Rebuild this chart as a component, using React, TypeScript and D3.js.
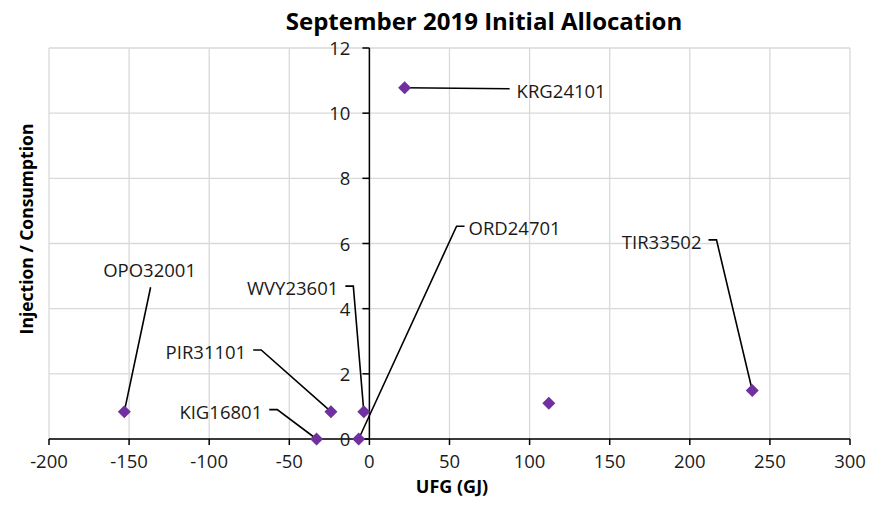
import React from "react";
import * as d3 from "d3";

const names = ["OPO32001", "PIR31101", "WVY23601", "KIG16801", "ORD24701", "KRG24101", "TIR33502", ""];
const ufg = [-153, -24, -3.5, -33, -6.7, 22, 239, 112];
const injection = [0.84, 0.84, 0.84, 0, 0, 10.78, 1.49, 1.1];
// label anchor positions in data units
const labelX = [-137.2, -76.9, -19.4, -66.9, 61.9, 91.9, 207.3, 0];
const labelY = [5.18, 2.67, 4.63, 0.84, 6.47, 10.69, 6.05, 0];
const labelSide = ["middle", "end", "end", "end", "start", "start", "end", "none"];

const xTicks = [-200, -150, -100, -50, 0, 50, 100, 150, 200, 250, 300];
const yTicks = [0, 2, 4, 6, 8, 10, 12];

const title = "September 2019 Initial Allocation";
const xTitle = "UFG (GJ)";
const yTitle = "Injection / Consumption";

const W = 872;
const H = 510;

export default function App() {
  const x = d3.scaleLinear().domain([-200, 300]).range([49, 850]);
  const y = d3.scaleLinear().domain([0, 12]).range([439, 48]);
  const font = "'Open Sans', sans-serif";
  const purple = "#7030A0";
  const grid = "#d9d9d9";

  const diamond = (cx: number, cy: number, r: number) =>
    `M${cx},${cy - r}L${cx + r},${cy}L${cx},${cy + r}L${cx - r},${cy}Z`;

  return (
    <svg
      width={W}
      height={H}
      style={{ position: "absolute", left: 0, top: 0, background: "#fff" }}
    >
      <rect x={0} y={0} width={W} height={H} fill="#fff" />
      {/* gridlines */}
      {xTicks.map((t) => (
        <line key={"gx" + t} x1={x(t)} x2={x(t)} y1={y(12)} y2={y(0)} stroke={grid} strokeWidth={1.3} />
      ))}
      {yTicks.map((t) => (
        <line key={"gy" + t} x1={x(-200)} x2={x(300)} y1={y(t)} y2={y(t)} stroke={grid} strokeWidth={1.3} />
      ))}
      {/* axes */}
      <line x1={x(-200)} x2={x(300)} y1={y(0)} y2={y(0)} stroke="#000" strokeWidth={1.5} />
      <line x1={x(0)} x2={x(0)} y1={y(12)} y2={y(0)} stroke="#000" strokeWidth={1.5} />
      {xTicks.map((t) => (
        <g key={"xt" + t}>
          <line x1={x(t)} x2={x(t)} y1={y(0)} y2={y(0) + 6} stroke="#000" strokeWidth={1.5} />
          <text x={x(t)} y={y(0) + 29} textAnchor="middle" fontFamily={font} fontSize={18.5} fill="#1a1a1a">
            {t}
          </text>
        </g>
      ))}
      {yTicks.map((t) => (
        <g key={"yt" + t}>
          <line x1={x(0) - 7} x2={x(0)} y1={y(t)} y2={y(t)} stroke="#000" strokeWidth={1.5} />
          <text x={x(0) - 19} y={y(t) + 7} textAnchor="end" fontFamily={font} fontSize={18.5} fill="#1a1a1a">
            {t}
          </text>
        </g>
      ))}
      {/* leader lines */}
      {names.map((n, i) => {
        const side = labelSide[i];
        if (side === "none") return null;
        const px = x(ufg[i]);
        const py = y(injection[i]);
        const lx = x(labelX[i]);
        const ly = y(labelY[i]);
        let pts: [number, number][] = [];
        if (side === "middle") {
          pts = [[px, py], [lx + 1, ly + 17]];
        } else if (side === "end") {
          pts = [[px, py], [lx + 15, ly - 2], [lx + 7, ly - 2]];
        } else {
          if (Math.abs(ly - py) < 10) pts = [[px, py], [lx - 7, ly - 2]];
          else pts = [[px, py], [lx - 12, ly - 2], [lx - 4, ly - 2]];
        }
        return (
          <path key={"ll" + i} d={d3.line()(pts) || ""} fill="none" stroke="#000" strokeWidth={1.6} />
        );
      })}
      {/* markers */}
      {names.map((n, i) => (
        <path key={"m" + i} d={diamond(x(ufg[i]), y(injection[i]), 6.5)} fill={purple} />
      ))}
      {/* labels */}
      {names.map((n, i) => {
        const side = labelSide[i];
        if (side === "none") return null;
        return (
          <text
            key={"lb" + i}
            x={x(labelX[i])}
            y={y(labelY[i]) + 7}
            textAnchor={side}
            fontFamily={font}
            fontSize={18.5}
            fill="#1a1a1a"
          >
            {n}
          </text>
        );
      })}
      {/* titles */}
      <text x={484} y={30} textAnchor="middle" fontFamily={font} fontSize={24} fontWeight="bold" fill="#000">
        {title}
      </text>
      <text x={452} y={493} textAnchor="middle" fontFamily={font} fontSize={18} fontWeight="bold" fill="#000">
        {xTitle}
      </text>
      <text
        transform="translate(33,229) rotate(-90)"
        textAnchor="middle"
        fontFamily={font}
        fontSize={17.5}
        fontWeight="bold"
        fill="#000"
      >
        {yTitle}
      </text>
    </svg>
  );
}
